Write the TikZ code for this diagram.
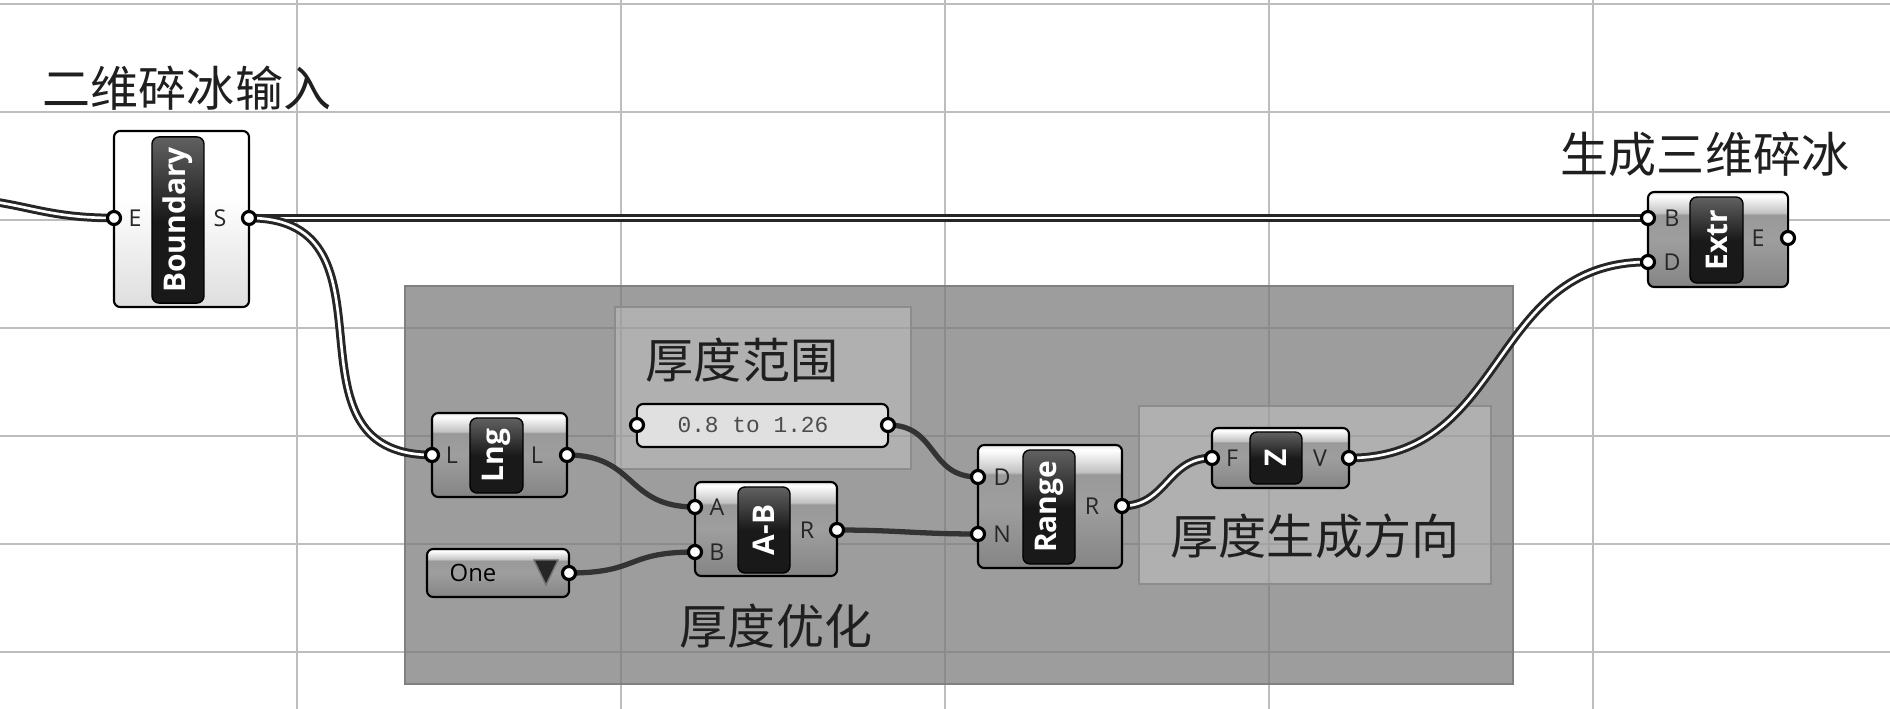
\documentclass[tikz,border=0pt]{standalone}
\usepackage{fontspec}
\setmainfont{Open Sans}
\newfontfamily\cjk{Noto Sans CJK SC}
\newfontfamily\panelfont{Liberation Mono}

\definecolor{gA}{gray}{0.52}
\definecolor{gB}{gray}{0.62}
\definecolor{gC}{gray}{0.60}
\definecolor{gD}{gray}{0.76}
\definecolor{gE}{gray}{0.90}
\definecolor{lA}{gray}{0.87}
\definecolor{lB}{gray}{0.94}
\definecolor{capT}{gray}{0.38}
\definecolor{capB}{gray}{0.10}
\definecolor{panelC}{gray}{0.88}
\definecolor{grpC}{gray}{0.47}
\definecolor{gridC}{gray}{0.74}

\pgfdeclareverticalshading{ghgray}{100bp}{color(0bp)=(gA); color(25bp)=(gA); color(50bp)=(gB); color(63bp)=(gC); color(64bp)=(gD); color(73bp)=(white); color(75bp)=(gE); color(100bp)=(gE)}
\pgfdeclareverticalshading{ghlight}{100bp}{color(0bp)=(lA); color(25bp)=(lA); color(42bp)=(lB); color(56bp)=(white); color(75bp)=(white); color(100bp)=(white)}

\pgfdeclarelayer{bg}
\pgfdeclarelayer{wires}
\pgfsetlayers{bg,wires,main}

\begin{document}
\begin{tikzpicture}[x=0.01cm,y=-0.01cm,
    comp/.style={draw=black,line width=0.6pt,rounded corners=1.8pt,shade,shading=ghgray,inner sep=0pt},
    param/.style={comp,shading=ghlight},
    capsule/.style={draw=black,line width=0.4pt,rounded corners=2pt,top color=capT,bottom color=capB,middle color=capB,inner sep=0pt,text=white,font=\bfseries\fontsize{8.5pt}{9pt}\selectfont},
    port/.style={circle,draw=black,fill=white,line width=0.9pt,minimum size=0.13cm,inner sep=0pt},
    plabel/.style={font=\fontsize{6.6pt}{7pt}\selectfont,text=black!85,inner sep=0pt},
    wire/.style={draw=black!80,line width=1.5pt},
    dwire/.style={draw=black!85,line width=0.85pt,double=white,double distance=0.75pt},
    gridline/.style={draw=gridC,line width=0.43pt},
    grp/.style={fill=grpC,fill opacity=0.72,draw=black!50,line width=0.5pt},
    subgrp/.style={fill=white,fill opacity=0.2,draw=black!45,line width=0.5pt},
    title/.style={font=\cjk\fontsize{13.66pt}{16pt}\selectfont,text=black!88,inner sep=0pt}
]
    \useasboundingbox (0,0) rectangle (1890,709);

    \begin{pgfonlayer}{bg}
    % Canvas grid
    \fill[white] (0,0) rectangle (1890,709);
    \draw[gridline] (297,0) -- (297,709) (621,0) -- (621,709) (945,0) -- (945,709)
        (1269,0) -- (1269,709) (1593,0) -- (1593,709);
    \draw[gridline] (0,4) -- (1890,4) (0,112) -- (1890,112) (0,220) -- (1890,220)
        (0,328) -- (1890,328) (0,436) -- (1890,436) (0,544) -- (1890,544) (0,652) -- (1890,652);

    % Groups
    \draw[grp] (405,286) rectangle (1513,684);
    \draw[subgrp] (615,307) rectangle (911,469);
    \draw[subgrp] (1139,406) rectangle (1491,584);

    % Titles
    \node[title] (tIn) at (187,88) {二维碎冰输入};
    \node[title] (tOut) at (1705,154) {生成三维碎冰};
    \node[title] (tRange) at (742,360) {厚度范围};
    \node[title] (tOpt) at (776,626) {厚度优化};
    \node[title] (tDir) at (1315,536) {厚度生成方向};
    \end{pgfonlayer}

    % Boundary surface
    \node[param,minimum width=1.35cm,minimum height=1.76cm] (bnd) at (181.5,219) {};
    \node[capsule,minimum width=0.52cm,minimum height=1.66cm] (bndCap) at (178,220) {\rotatebox{90}{Boundary}};
    \node[plabel] (bndLE) at (135,218) {E};
    \node[plabel] (bndLS) at (220,218) {S};

    % Length
    \node[comp,minimum width=1.35cm,minimum height=0.84cm] (lng) at (499.5,455) {};
    \node[capsule,minimum width=0.53cm,minimum height=0.75cm] (lngCap) at (496.5,455.5) {\rotatebox{90}{Lng}};
    \node[plabel] (lngLi) at (452,455) {L};
    \node[plabel] (lngLo) at (537,455) {L};

    % Value list
    \node[comp,minimum width=1.42cm,minimum height=0.48cm] (one) at (498,573) {};
    \node[inner sep=0pt,font=\fontsize{6.8pt}{7pt}\selectfont] (oneTxt) at (473,573) {One};
    \fill[black!85,draw=black!55,line width=0.4pt] (534,560) -- (558,560) -- (546,585) -- cycle;

    % Subtraction
    \node[comp,minimum width=1.42cm,minimum height=0.94cm] (sub) at (766,529) {};
    \node[capsule,minimum width=0.52cm,minimum height=0.86cm] (subCap) at (764,530) {\rotatebox{90}{A-B}};
    \node[plabel] (subLA) at (717,507) {A};
    \node[plabel] (subLB) at (717,552) {B};
    \node[plabel] (subLR) at (807,530) {R};

    % Domain panel
    \node[draw=black,line width=0.6pt,rounded corners=1.8pt,fill=panelC,minimum width=2.51cm,minimum height=0.43cm] (dom) at (762.5,425.5) {};
    \node[inner sep=0pt,text=black!70,font=\panelfont\fontsize{6.5pt}{7pt}\selectfont] (domTxt) at (753,425) {0.8 to 1.26};

    % Range
    \node[comp,minimum width=1.44cm,minimum height=1.23cm] (rng) at (1050,506.5) {};
    \node[capsule,minimum width=0.52cm,minimum height=1.14cm] (rngCap) at (1049,507) {\rotatebox{90}{Range}};
    \node[plabel] (rngLD) at (1002,477) {D};
    \node[plabel] (rngLN) at (1002,534) {N};
    \node[plabel] (rngLR) at (1092,506) {R};

    % Unit Z
    \node[comp,minimum width=1.37cm,minimum height=0.60cm] (unz) at (1280.5,458) {};
    \node[capsule,minimum width=0.52cm,minimum height=0.52cm] (unzCap) at (1276,458) {\rotatebox{90}{Z}};
    \node[plabel] (unzLF) at (1232,458) {F};
    \node[plabel] (unzLV) at (1320,458) {V};

    % Extrude
    \node[comp,minimum width=1.40cm,minimum height=0.95cm] (ext) at (1718,239.5) {};
    \node[capsule,minimum width=0.53cm,minimum height=0.86cm] (extCap) at (1716.5,240) {\rotatebox{90}{Extr}};
    \node[plabel] (extLB) at (1672,218) {B};
    \node[plabel] (extLD) at (1672,262) {D};
    \node[plabel] (extLE) at (1758,238) {E};

    % Ports
    \coordinate (inE) at (-60,198);
    \node[port] (bndE) at (114,218) {};
    \node[port] (bndS) at (249,218) {};
    \node[port] (lngI) at (432,455) {};
    \node[port] (lngO) at (567,455) {};
    \node[port] (oneO) at (569,573) {};
    \node[port] (subA) at (695,507) {};
    \node[port] (subB) at (695,552) {};
    \node[port] (subR) at (837,530) {};
    \node[port] (domI) at (637,425) {};
    \node[port] (domO) at (888,425) {};
    \node[port] (rngD) at (978,477) {};
    \node[port] (rngN) at (978,534) {};
    \node[port] (rngR) at (1122,506) {};
    \node[port] (unzF) at (1212,458) {};
    \node[port] (unzV) at (1349,458) {};
    \node[port] (extB) at (1648,218) {};
    \node[port] (extD) at (1648,262) {};
    \node[port] (extE) at (1788,238) {};

    \begin{pgfonlayer}{wires}
    % Wires
    \draw[dwire] (inE) .. controls +(80,0) and +(-80,0) .. (bndE.center);
    \draw[dwire] (bndS.center) -- (extB.center);
    \draw[dwire] (bndS.center) .. controls +(160,0) and +(-160,0) .. (lngI.center);
    \draw[wire] (lngO.center) .. controls +(70,0) and +(-70,0) .. (subA.center);
    \draw[wire] (oneO.center) .. controls +(70,0) and +(-70,0) .. (subB.center);
    \draw[wire] (domO.center) .. controls +(50,0) and +(-50,0) .. (rngD.center);
    \draw[wire] (subR.center) .. controls +(60,0) and +(-60,0) .. (rngN.center);
    \draw[dwire] (rngR.center) .. controls +(45,0) and +(-45,0) .. (unzF.center);
    \draw[dwire] (unzV.center) .. controls +(160,0) and +(-160,0) .. (extD.center);
    \end{pgfonlayer}
\end{tikzpicture}
\end{document}
